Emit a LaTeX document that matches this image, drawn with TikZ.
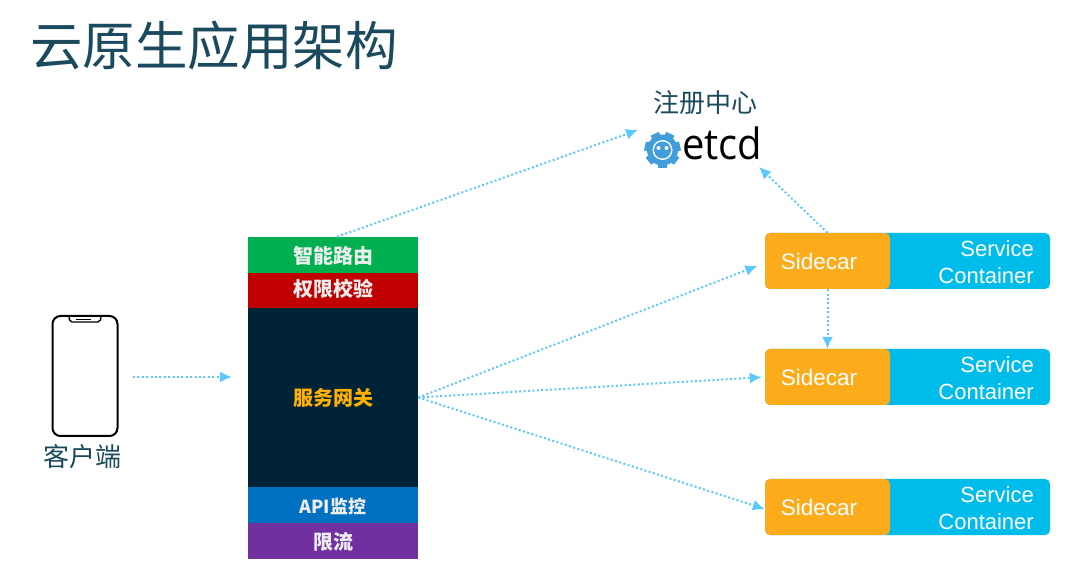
\documentclass[tikz,border=0pt]{standalone}
\usepackage{fontspec}
\setmainfont{Liberation Sans}
\newfontfamily\cjk{Noto Sans CJK SC}
\newfontfamily\logofont{Open Sans}
\usetikzlibrary{arrows.meta}

\definecolor{titleBlue}{HTML}{1B4A5E}
\definecolor{flowBlue}{HTML}{5CC8FC}
\definecolor{sideOrange}{HTML}{FCAB1A}
\definecolor{serviceBlue}{HTML}{00BCEB}
\definecolor{gearBlue}{HTML}{419EDA}
\definecolor{routeGreen}{HTML}{00B050}
\definecolor{authRed}{HTML}{C00000}
\definecolor{gateDark}{HTML}{002337}
\definecolor{monitorBlue}{HTML}{0070C0}
\definecolor{limitPurple}{HTML}{7030A0}
\definecolor{gateYellow}{HTML}{FFB000}
\definecolor{gateText}{HTML}{EDEDED}

\newcommand{\nudge}[2]{\raisebox{#1}[\height][\depth]{#2}}

\tikzset{
  flow/.style={draw=flowBlue,line width=2pt,dash pattern=on 2pt off 2.4pt,-{Latex[length=12pt,width=11pt]}},
  layer/.style={minimum width=170pt,inner sep=0pt,font=\cjk\bfseries\fontsize{20}{24}\selectfont,text=gateText},
  sidecar/.style={fill=sideOrange,rounded corners=5pt,minimum width=125pt,minimum height=56pt,inner sep=0pt},
  sidetext/.style={text=white,inner sep=0pt,font=\fontsize{22.5}{26}\selectfont},
  service/.style={fill=serviceBlue,rounded corners=5pt,minimum width=285pt,minimum height=56pt,inner sep=0pt},
  servicetext/.style={text=white,align=right,inner sep=0pt,font=\fontsize{22}{27}\selectfont},
  caption/.style={text=titleBlue,inner sep=0pt,font=\cjk\fontsize{26}{30}\selectfont}
}

\begin{document}
\begin{tikzpicture}[x=1pt,y=-1pt]
  \useasboundingbox (0,0) rectangle (1080,585);

  % Title
  \node(title) [anchor=west,inner sep=0pt,text=titleBlue,font=\cjk\fontsize{52.5}{60}\selectfont] at (30,46) {云原生应用架构};

  % Client
  \node(phone) [draw=black,line width=2pt,rounded corners=8pt,minimum width=65pt,minimum height=120pt,inner sep=0pt] at (85,376) {};
  \draw[line width=1.4pt,rounded corners=2pt] (69,317) -- (70,322) -- (100,322) -- (101,317);
  \draw[line width=1.2pt] (76,319.5) -- (91,319.5);
  \node(client) [caption] at (82,457) {客户端};

  % Gateway layers
  \node(route)   [layer,fill=routeGreen,minimum height=36pt]   at (333,255)   {\nudge{-1pt}{智能路由}};
  \node(auth)    [layer,fill=authRed,minimum height=35pt]      at (333,290.5) {\nudge{1.5pt}{权限校验}};
  \node(gateway) [layer,fill=gateDark,minimum height=179pt,text=gateYellow] at (333,397.5) {服务网关};
  \node(monitor) [layer,fill=monitorBlue,minimum height=36pt,font=\cjk\bfseries\fontsize{18}{24}\selectfont] at (333,505) {\nudge{-1pt}{API监控}};
  \node(limit)   [layer,fill=limitPurple,minimum height=36pt]  at (333,541)   {\nudge{-1pt}{限流}};

  % Registry
  \node(registry) [caption] at (705,103) {注册中心};
  \node(etcd) [anchor=west,inner sep=0pt,xscale=.93,transform shape,font=\logofont\fontsize{43}{50}\selectfont] at (682,143) {etcd};
  \foreach \a in {0,...,6}
    {\fill[gearBlue,rotate around={\a*360/7:(662.5,150)}] (658,168) rectangle (667,158);}
  \fill[gearBlue] (662.5,150) circle (15.5pt);
  \fill[white] (662.5,150) circle (10pt);
  \fill[gearBlue] (662.5,150) circle (8.5pt);
  \fill[white] (658.5,148) circle (2pt) (666.5,148) circle (2pt);
  \coordinate(registryin) at (638,130);
  \coordinate(registryout) at (759,167);

  % Sidecar rows
  \foreach \name/\y in {A/261,B/377,C/507}
    {
      \node(service\name) [service] at (907.5,\y) {};
      \node(text\name) [servicetext,anchor=east] at (1034,\y+1) {Service\\Container};
      \node(side\name) [sidecar] at (827.5,\y) {};
      \node(label\name) [sidetext] at (819,\y) {Sidecar};
    }

  % Flows
  \draw [flow] (133,377) coordinate(clientout) -- (232,377) coordinate(gatewayin);
  \draw [flow] ([xshift=4pt]route.north) -- (registryin);
  \draw [flow] (sideA.north) -- (registryout);
  \draw [flow] (sideA.south) -- (sideB.north);
  \draw [flow,shorten >=8pt] (gateway.east) -- ([yshift=-2pt]sideA.west);
  \draw [flow,shorten >=3pt] (gateway.east) -- (sideB.west);
  \draw [flow] (gateway.east) -- ([yshift=-2pt]sideC.west);
\end{tikzpicture}
\end{document}
